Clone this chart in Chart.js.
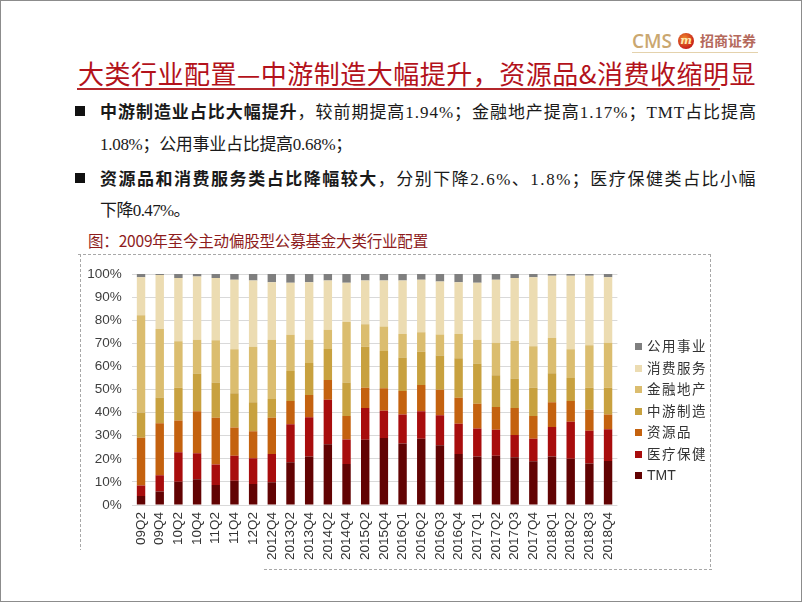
<!DOCTYPE html>
<html>
<head>
<meta charset="utf-8">
<script src="https://cdn.jsdelivr.net/npm/chart.js@4.4.1/dist/chart.umd.min.js"></script>
<style>
  html, body { margin: 0; padding: 0; background: #fff; }
  body { width: 802px; height: 602px; position: relative; overflow: hidden; font-family: "Noto Sans CJK SC", sans-serif; }
  .abs { position: absolute; white-space: nowrap; }
  #frame { left: 0; top: 0; width: 800px; height: 600px; border: 1px solid #8c8c8c; }
  #cms { left: 632px; top: 28px; font-family: "Open Sans", sans-serif; font-size: 19px; font-weight: 600; color: #caa770; }
  #circle { left: 678px; top: 33px; width: 16px; height: 16px; border-radius: 50%; background: radial-gradient(circle at 40% 35%, #f08a2a, #c8221a 70%, #a0140f); color: #ffe9b0; font: italic bold 11px "DejaVu Serif", serif; text-align: center; line-height: 16px; }
  #zs { left: 700px; top: 30px; font-size: 14px; font-weight: 700; color: #b56a5c; }
  #logoLine { left: 632px; top: 52px; width: 126px; height: 1px; background: #e4d2ac; }
  #title { left: 78px; top: 56px; font-size: 26px; color: #b3121b; line-height: 34px; }
  #titleLine { left: 77px; top: 88px; width: 643px; height: 2px; background: #b3262b; }
  .sq { width: 10px; height: 10px; background: #111; }
  .bt { font-family: "Liberation Serif", "Noto Sans CJK SC", serif; font-size: 17px; color: #1a1a1a; line-height: 24px; }
  .bt b { font-family: "Noto Sans CJK SC", sans-serif; font-weight: 700; }
  #sub { left: 88px; top: 229px; font-size: 15.5px; color: #8e1c1c; line-height: 22px; }
  .dotH { height: 1px; background: repeating-linear-gradient(to right, #a8a8a8 0 3px, transparent 3px 5px); }
  .dotV { width: 1px; background: repeating-linear-gradient(to bottom, #a8a8a8 0 3px, transparent 3px 5px); }
  #chartBox { left: 82px; top: 256px; width: 626px; height: 312px; }
  #legend { left: 635px; top: 336px; }
  .li { position: relative; height: 21.5px; line-height: 18px; font-size: 13.5px; color: #333; letter-spacing: 1.5px; }
  .li span.b { display: inline-block; width: 7px; height: 7px; margin-right: 5px; vertical-align: 1px; }
  .li span.t { font-family: "Liberation Sans", Arial, sans-serif; letter-spacing: 0; font-size: 14px; }
</style>
</head>
<body>
<div id="frame" class="abs"></div>
<div id="cms" class="abs">CMS</div>
<div id="circle" class="abs">m</div>
<div id="zs" class="abs">招商证券</div>
<div id="logoLine" class="abs"></div>
<div id="title" class="abs" data-w="678">大类行业配置—中游制造大幅提升，资源品&amp;消费收缩明显</div>
<div id="titleLine" class="abs"></div>

<div class="abs sq" style="left:75px; top:106px;"></div>
<div class="abs bt" style="left:100px; top:99px;" data-w="657"><b>中游制造业占比大幅提升</b>，较前期提高1.94%；金融地产提高1.17%；TMT占比提高</div>
<div class="abs bt" style="left:100px; top:133px;" data-w="252">1.08%；公用事业占比提高0.68%；</div>
<div class="abs sq" style="left:75px; top:173px;"></div>
<div class="abs bt" style="left:100px; top:166px;" data-w="657"><b>资源品和消费服务类占比降幅较大</b>，分别下降2.6%、1.8%；医疗保健类占比小幅</div>
<div class="abs bt" style="left:100px; top:199px;" data-w="90">下降0.47%。</div>

<div id="sub" class="abs" data-w="340">图：2009年至今主动偏股型公募基金大类行业配置</div>

<div class="abs dotH" style="left:78px; top:254px; width:634px;"></div>
<div class="abs dotV" style="left:80px; top:254px; height:296px;"></div>
<div class="abs dotV" style="left:710px; top:254px; height:315px;"></div>
<div class="abs dotH" style="left:264px; top:569px; width:448px;"></div>

<div id="chartBox" class="abs"><canvas id="c" width="626" height="312"></canvas></div>
<div id="legend" class="abs"></div>

<script>
// ---- data (percent share of each category) ----
const categories = ["09Q2","09Q4","10Q2","10Q4","11Q2","11Q4","12Q2","2012Q4","2013Q2","2013Q4","2014Q2","2014Q4","2015Q2","2015Q4","2016Q1","2016Q2","2016Q3","2016Q4","2017Q1","2017Q2","2017Q3","2017Q4","2018Q1","2018Q2","2018Q3","2018Q4"];
const seriesNames = ["TMT","医疗保健","资源品","中游制造","金融地产","消费服务","公用事业"];
const tmt        = [3.9,5.9,10.1,11.2,8.7,10.5,9.1,9.8,18.5,21.0,26.3,17.8,28.3,29.0,26.6,28.7,25.9,22.1,21.0,21.3,20.7,18.9,21.0,20.0,18.0,19.1];
const health     = [4.5,7.0,12.7,11.2,8.8,10.8,11.2,12.3,16.5,17.0,19.3,10.6,13.7,11.8,12.6,11.9,13.0,13.1,12.1,11.3,9.6,9.8,12.8,16.1,14.2,13.7];
const resources  = [20.7,22.5,13.8,18.2,20.3,12.3,11.6,15.7,10.0,9.6,8.5,10.1,8.8,9.8,10.2,11.4,11.0,11.2,10.7,9.8,11.7,9.8,10.7,8.9,9.0,6.4];
const midstream  = [10.8,11.2,14.2,16.3,15.3,14.8,12.6,8.1,13.0,13.9,13.5,14.6,17.7,16.1,14.5,14.4,14.9,17.2,17.5,13.8,12.8,12.3,12.6,10.0,9.6,11.6];
const finance    = [42.3,29.6,20.1,14.7,18.2,19.0,24.0,25.7,15.7,10.1,8.3,26.2,9.8,10.6,10.2,8.4,9.0,10.5,10.3,14.1,16.2,18.0,15.2,12.4,18.4,19.5];
const consumer   = [16.4,23.4,27.4,27.4,27.0,30.2,28.7,24.9,22.5,24.9,21.3,16.9,18.9,19.9,23.1,22.7,23.0,22.4,24.6,27.2,27.3,29.8,27.0,31.9,30.1,28.3];
const utilities  = [1.4,0.4,1.7,1.0,1.7,2.4,2.8,3.5,3.8,3.5,2.8,3.8,2.8,2.8,2.8,2.5,3.2,3.5,3.8,2.5,1.7,1.4,0.7,0.7,0.7,1.4];
const yTicks = [0,10,20,30,40,50,60,70,80,90,100];

const seriesValues = [tmt, health, resources, midstream, finance, consumer, utilities];
const seriesColors = ["#620303","#a80d0d","#c4620f","#c8a13f","#dbbd6f","#ecdcb2","#7f7f7f"];

// ---- fit text widths ----
document.querySelectorAll('[data-w]').forEach(el => {
  const target = parseFloat(el.getAttribute('data-w'));
  const w = el.getBoundingClientRect().width;
  const n = el.textContent.length;
  if (n > 1) el.style.letterSpacing = ((target - w) / n) + 'px';
});

// ---- legend (top to bottom = reverse of stacking order) ----
const legend = document.getElementById('legend');
for (let i = seriesNames.length - 1; i >= 0; i--) {
  const d = document.createElement('div');
  d.className = 'li';
  const b = document.createElement('span'); b.className = 'b'; b.style.background = seriesColors[i];
  const t = document.createElement('span'); t.textContent = seriesNames[i];
  if (/^[A-Za-z]+$/.test(seriesNames[i])) t.className = 't';
  d.appendChild(b); d.appendChild(t);
  legend.appendChild(d);
}

// ---- chart ----
const ctx = document.getElementById('c').getContext('2d');
new Chart(ctx, {
  type: 'bar',
  data: {
    labels: categories,
    datasets: seriesNames.map((name, i) => ({
      label: name,
      data: seriesValues[i],
      backgroundColor: seriesColors[i],
      borderWidth: 0,
      categoryPercentage: 1.0,
      barPercentage: 0.45
    }))
  },
  options: {
    responsive: false,
    animation: false,
    devicePixelRatio: 1,
    layout: { padding: { top: 11, right: 90.6, bottom: 0, left: 0 } },
    plugins: { legend: { display: false }, tooltip: { enabled: false } },
    scales: {
      x: {
        stacked: true,
        grid: { display: false, drawTicks: false },
        border: { display: false },
        ticks: {
          minRotation: 90, maxRotation: 90, autoSkip: false, padding: 7,
          color: '#333', font: { family: '"Liberation Sans", Arial, sans-serif', size: 13.5 }
        },
        afterFit: s => { s.height = 63; }
      },
      y: {
        stacked: true,
        min: 0, max: 100,
        afterBuildTicks: s => { s.ticks = yTicks.map(v => ({ value: v })); },
        grid: { color: '#d9d9d9', lineWidth: 1, drawTicks: false },
        border: { display: false },
        ticks: {
          padding: 10, color: '#404040',
          font: { family: '"Liberation Sans", Arial, sans-serif', size: 13.5 },
          callback: v => v + '%'
        },
        afterFit: s => { s.width = 49.7; }
      }
    }
  }
});
</script>
</body>
</html>
